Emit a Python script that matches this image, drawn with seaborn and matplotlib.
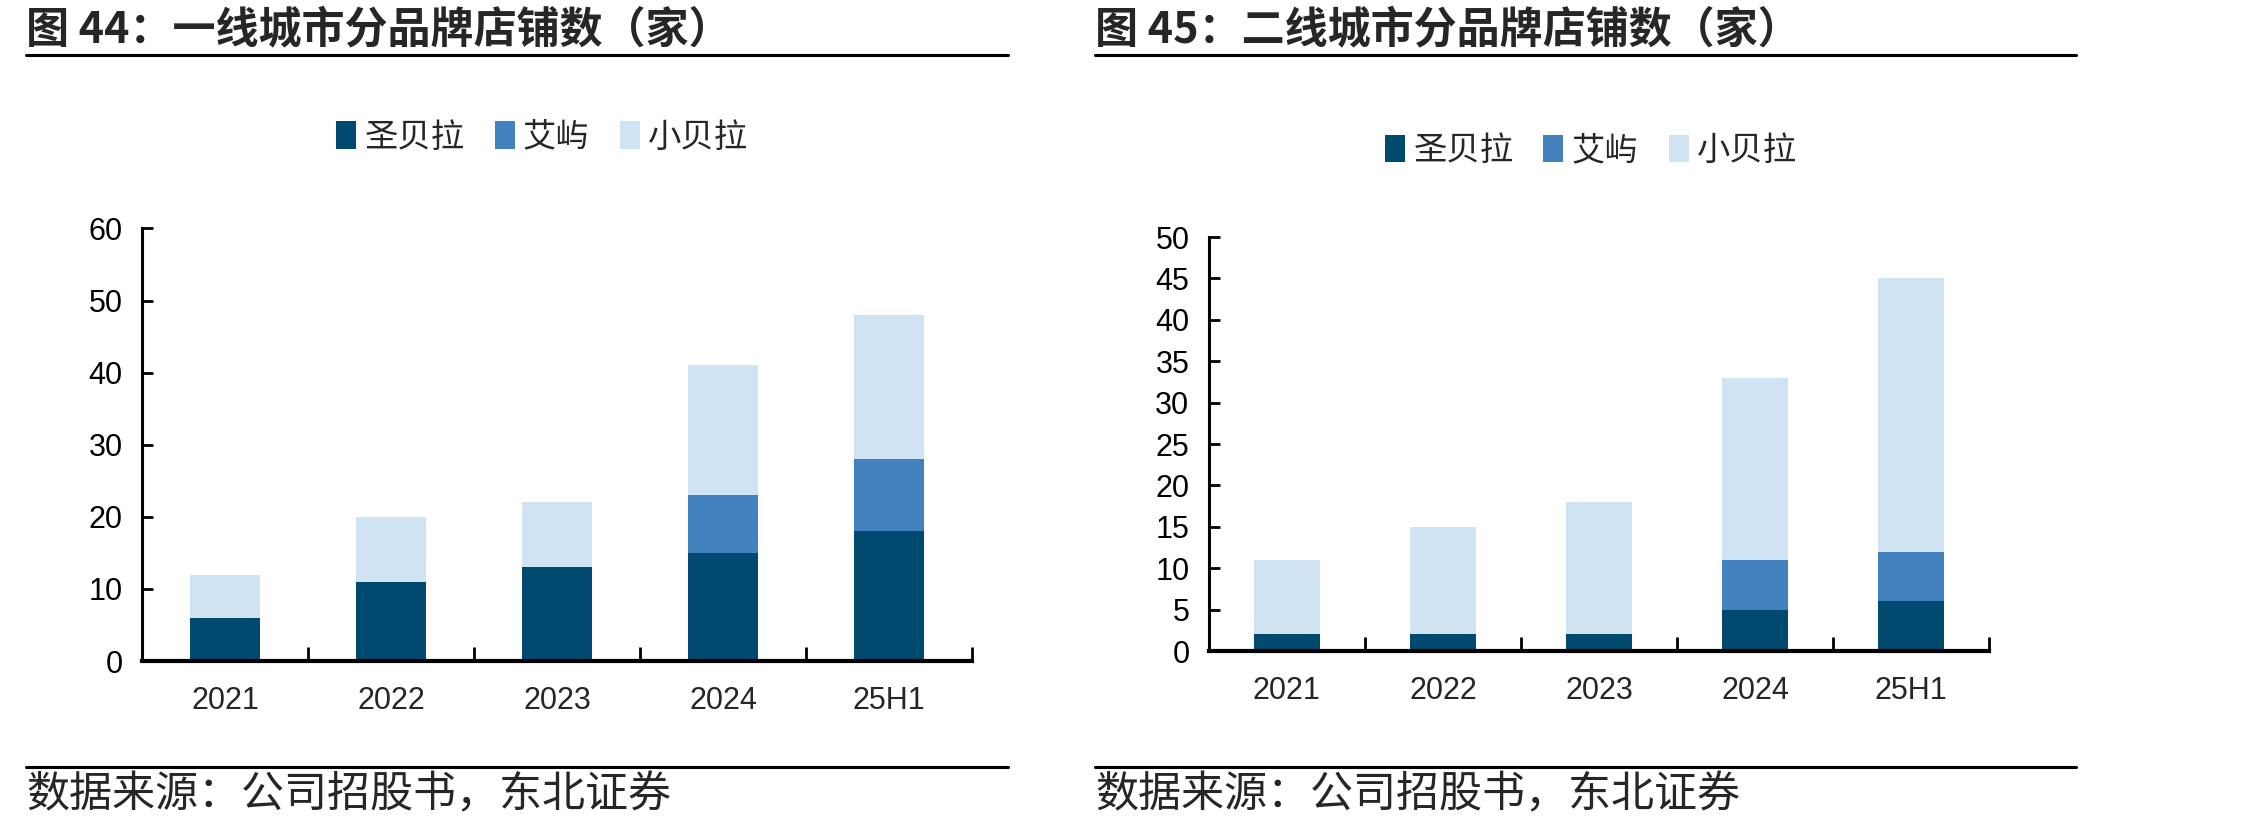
import numpy as np
import pandas as pd
import matplotlib
matplotlib.use("Agg")
import matplotlib.pyplot as plt
from matplotlib.patches import Patch
from matplotlib.lines import Line2D
import seaborn as sns

# Data (stores)
years = ["2021", "2022", "2023", "2024", "25H1"]
brands = ["圣贝拉", "艾屿", "小贝拉"]

# 图44: tier-1 cities
t1_shengbeila = [6, 11, 13, 15, 18]
t1_aiyu = [0, 0, 0, 8, 10]
t1_xiaobeila = [6, 9, 9, 18, 20]

# 图45: tier-2 cities
t2_shengbeila = [2, 2, 2, 5, 6]
t2_aiyu = [0, 0, 0, 6, 6]
t2_xiaobeila = [9, 13, 16, 22, 33]

colors = ["#004A70", "#4281BE", "#D0E3F3"]

sns.set_theme(style="white")
plt.rcParams["font.family"] = ["Liberation Sans", "Noto Sans CJK SC", "DejaVu Sans"]
cjk = ["Noto Sans CJK SC", "DejaVu Sans"]

fig = plt.figure(figsize=(22.68, 8.32), dpi=100)


def draw(ax, s1, s2, s3, ymax, ystep):
    df = pd.DataFrame({"year": years, "s1": s1, "s2": s2, "s3": s3})
    # stack by drawing cumulative totals from the top down
    df["c3"] = df["s1"] + df["s2"] + df["s3"]
    df["c2"] = df["s1"] + df["s2"]
    for col, c in zip(["c3", "c2", "s1"], colors[::-1]):
        sns.barplot(data=df, x="year", y=col, color=c, width=0.42,
                    saturation=1, linewidth=0, ax=ax)
    ax.set_xlim(-0.5, len(years) - 0.5)
    ax.set_ylim(0, ymax)
    ax.set_yticks(np.arange(0, ymax + 0.1, ystep))
    ax.set_xlabel("")
    ax.set_ylabel("")
    for s in ["top", "right"]:
        ax.spines[s].set_visible(False)
    ax.spines["left"].set_linewidth(2.2)
    ax.spines["bottom"].set_linewidth(3)
    ax.spines["left"].set_color("black")
    ax.spines["bottom"].set_color("black")
    ax.tick_params(axis="y", direction="in", length=8, width=2, labelsize=22,
                   pad=14, left=True, colors="black")
    ax.tick_params(axis="x", which="major", length=0, labelsize=22, pad=18)
    ax.set_xticks(np.arange(0.5, len(years), 1), minor=True)
    ax.tick_params(axis="x", which="minor", direction="in", length=10, width=2,
                   bottom=True, colors="black")
    ax.grid(False)
    handles = [Patch(facecolor=c, edgecolor="none") for c in colors]
    return handles


ax1 = fig.add_axes([0.0626, 0.2055, 0.366, 0.5199])
h = draw(ax1, t1_shengbeila, t1_aiyu, t1_xiaobeila, 60, 10)
fig.legend(h, brands, loc="center", bbox_to_anchor=(0.239, 0.835), ncol=3,
           frameon=False, prop={"family": cjk, "size": 24},
           handlelength=0.6, handleheight=0.9, handletextpad=0.25,
           columnspacing=0.9)

ax2 = fig.add_axes([0.533, 0.2175, 0.344, 0.4976])
h = draw(ax2, t2_shengbeila, t2_aiyu, t2_xiaobeila, 50, 5)
fig.legend(h, brands, loc="center", bbox_to_anchor=(0.7015, 0.819), ncol=3,
           frameon=False, prop={"family": cjk, "size": 24},
           handlelength=0.6, handleheight=0.9, handletextpad=0.25,
           columnspacing=0.9)

# titles, rules and source notes
titles = ["图 44：一线城市分品牌店铺数（家）", "图 45：二线城市分品牌店铺数（家）"]
for x0, x1, t in [(0.0115, 0.4444, titles[0]), (0.483, 0.9153, titles[1])]:
    fig.text(x0, 0.965, t, family=cjk, fontsize=31, fontweight="bold",
             va="center", ha="left")
    fig.add_artist(Line2D([x0, x1], [0.934, 0.934], color="black", lw=2.2,
                          transform=fig.transFigure))
    fig.add_artist(Line2D([x0, x1], [0.078, 0.078], color="black", lw=2.2,
                          transform=fig.transFigure))
    fig.text(x0, 0.044, "数据来源：公司招股书，东北证券", family=cjk, fontsize=31,
             va="center", ha="left")

fig.savefig("out.png", dpi=100)
